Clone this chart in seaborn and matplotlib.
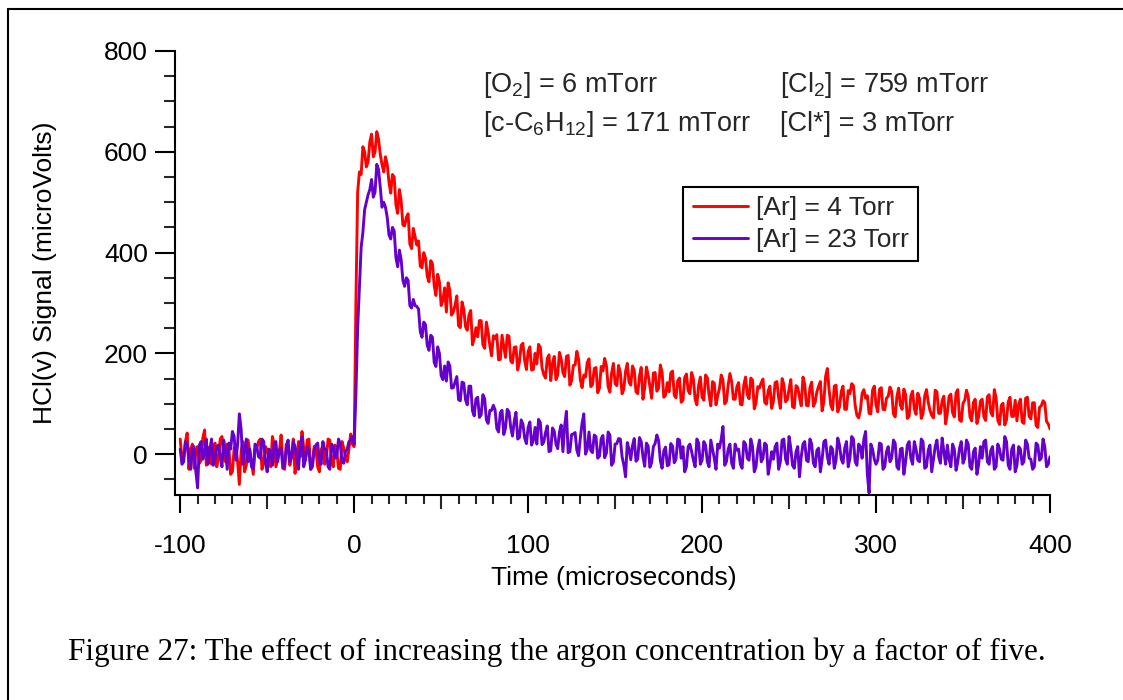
import numpy as np
import pandas as pd
import matplotlib
matplotlib.use("Agg")
import matplotlib.pyplot as plt
from matplotlib.lines import Line2D
from matplotlib.ticker import FixedLocator, MultipleLocator
import seaborn as sns

# Sampling times (microseconds): the digitizer record is stored as two
# interleaved halves, even and odd microseconds
time_even = np.arange(-100, 401, 2)
time_odd = np.arange(-99, 400, 2)

# HCl(v) signal, [Ar] = 4 Torr -- even microseconds
red_even = [
    30, -5, 42, 10, -28, 15, -12, 48, 5, -20,
    22, -8, 35, -15, 10, -35, 18, -60, 25, -22,
    5, -40, 12, 30, -18, 8, -25, 20, -10, 38,
    -30, 15, -5, -38, 25, 45, -12, 30, -20, 10,
    -35, 18, -8, 28, -25, 5, -30, 12, -15, 40,
    15, 520, 555, 600, 580, 635, 600, 625, 575, 590, 540,
    555, 495, 525, 455, 470, 417, 448, 415, 373, 400,
    353, 384, 335, 357, 295, 330, 340, 276, 296, 255,
    302, 253, 276, 217, 251, 265, 217, 262, 215, 235,
    237, 188, 214, 236, 185, 212, 167, 216, 186, 204,
    167, 200, 218, 171, 151, 197, 180, 148, 202, 162,
    194, 137, 176, 204, 148, 157, 182, 134, 170, 122,
    174, 190, 134, 161, 140, 176, 120, 164, 143, 175,
    124, 155, 109, 173, 134, 161, 125, 177, 113, 142,
    161, 117, 146, 103, 152, 126, 162, 109, 136, 113,
    157, 117, 144, 98, 131, 147, 105, 160, 109, 134,
    99, 138, 118, 151, 90, 134, 142, 103, 126, 91,
    142, 112, 150, 104, 129, 94, 136, 113, 153, 97,
    132, 95, 124, 144, 104, 170, 97, 135, 84, 124,
    89, 126, 140, 97, 72, 121, 111, 81, 127, 97,
    129, 89, 111, 133, 80, 114, 97, 129, 71, 115,
    90, 121, 71, 116, 103, 77, 127, 81, 106, 60,
    115, 82, 122, 68, 101, 127, 74, 103, 61, 105,
    74, 114, 83, 128, 67, 97, 58, 104, 75, 107,
    99, 64, 111, 75, 102, 57, 93, 106, 65, 50,
]

# HCl(v) signal, [Ar] = 4 Torr -- odd microseconds
red_odd = [
    -12, 25, -30, 20, 5, -18, 32, -22, 15, 8,
    -25, 30, -5, 20, -40, 12, -15, 5, -35, 28,
    -18, 10, 25, -30, 15, -10, 35, -25, 5, -15,
    20, -22, 30, -10, -5, 12, 28, -30, 15, -25,
    8, -20, 30, -12, 18, -28, 25, -5, 10, 20,
    300, 560, 610, 570, 620, 590, 640, 595, 560, 575,
    518, 550, 478, 503, 453, 477, 408, 432, 423, 370,
    389, 342, 378, 315, 342, 305, 282, 325, 282, 314,
    251, 288, 246, 285, 229, 233, 265, 210, 242, 195,
    229, 187, 236, 192, 234, 181, 213, 183, 220, 168,
    213, 168, 179, 212, 158, 190, 146, 194, 157, 189,
    154, 196, 146, 177, 188, 132, 153, 189, 138, 172,
    131, 165, 176, 123, 180, 136, 162, 129, 180, 137,
    166, 120, 172, 131, 157, 111, 162, 131, 163, 117,
    124, 165, 112, 151, 107, 159, 120, 149, 98, 153,
    107, 152, 96, 141, 116, 157, 100, 137, 144, 109,
    142, 98, 153, 110, 147, 102, 131, 149, 99, 135,
    105, 144, 91, 138, 108, 148, 92, 132, 96, 138,
    96, 143, 103, 135, 86, 154, 128, 88, 137, 94,
    135, 89, 120, 136, 77, 87, 128, 116, 80, 135,
    84, 132, 88, 115, 124, 74, 131, 89, 118, 75,
    125, 79, 111, 80, 128, 87, 72, 124, 81, 115,
    83, 119, 74, 128, 65, 107, 114, 66, 109, 75,
    109, 67, 118, 76, 112, 59, 101, 68, 113, 75,
    66, 109, 61, 113, 70, 102, 53, 96, 102, 60,
]

# HCl(v) signal, [Ar] = 23 Torr -- even microseconds
purple_even = [
    10, -15, 20, -30, 15, -67, 25, 5, -20, 30,
    -10, 18, -25, 8, 22, 45, -12, 80, -20, 30,
    10, -28, 15, -8, 25, -35, 5, 20, -15, 12,
    -22, 28, -5, 15, -30, 35, -10, 5, -25, 18,
    -12, 25, 8, -30, 15, -5, 20, -18, 10, 28,
    20, 250, 410, 485, 515, 545, 520, 565, 490, 490, 435,
    450, 390, 405, 345, 350, 295, 307, 293, 243, 262,
    216, 236, 182, 213, 156, 175, 183, 131, 143, 108,
    143, 108, 135, 86, 110, 73, 118, 68, 87, 97,
    51, 82, 39, 89, 53, 65, 30, 68, 32, 53,
    18, 53, 69, 19, 43, 5, 52, 20, 44, 5,
    85, 5, 40, 8, 32, 80, 10, 7, 38, -8,
    31, -7, 44, -22, 20, 31, -5, -45, 10, 17,
    -14, 33, -5, 22, -26, 15, 38, -13, 7, -23,
    21, -17, 30, -8, -35, 15, 5, -25, 22, -12,
    18, -25, 10, -30, 12, 55, -15, 20, -28, 8,
    -20, 25, -8, 30, -35, 10, -15, 22, -40, 5,
    15, -30, 28, -10, 35, -22, 5, -45, 20, -12,
    30, -18, 8, -35, 25, -5, 15, -28, 32, -10,
    12, -25, 35, -15, 20, -8, 45, -77, 10, -20,
    22, -30, 5, -15, 28, -25, 10, -40, 18, -8,
    25, -12, 30, -28, 8, -35, 15, -5, 32, -20,
    -10, 20, -32, 12, -18, 28, -25, 5, -40, 15,
    25, -15, 8, -30, 20, -10, 35, -22, 10, -35,
    15, -20, 28, -8, -30, 22, -12, 30, -25, -5,
]

# HCl(v) signal, [Ar] = 23 Torr -- odd microseconds
purple_odd = [
    -20, 25, -8, 12, -35, 18, -10, 30, 8, -22,
    15, -5, 28, -30, 10, 35, 20, 50, 5, -15,
    -25, 20, -5, 30, -15, 10, -22, 25, 8, -28,
    12, -15, 25, -8, 20, -25, 15, -30, 10, 22,
    -20, 10, -25, 20, -8, 30, -15, 5, 25, 35,
    120, 330, 440, 500, 525, 510, 575, 530, 500, 470,
    427, 443, 372, 386, 333, 345, 290, 295, 288, 232,
    257, 206, 232, 174, 200, 148, 145, 175, 132, 154,
    106, 141, 98, 135, 76, 113, 78, 110, 61, 87,
    88, 44, 87, 52, 84, 36, 83, 33, 60, 21,
    64, 27, 20, 63, 24, 56, 7, 46, 11, 58,
    56, 3, 39, 43, -3, 61, 0, 44, 3, 35,
    -4, 37, 2, 38, -16, 21, 30, -21, 23, -11,
    31, -10, 25, -24, 16, -17, 21, 27, -28, 14,
    -21, 16, -10, 28, 15, -25, 20, -12, 30, -20,
    25, -15, 28, -8, 20, 30, -22, 10, -18, 20,
    10, -28, 20, -12, 15, -25, 28, -8, 18, -20,
    -10, 22, -15, 30, -20, 12, -28, 15, -5, 25,
    -15, 20, -25, 12, -10, 28, -20, 10, -12, 18,
    -18, 25, -8, 30, -22, 15, 30, -40, 20, -10,
    -12, 20, -25, 15, -8, 22, -30, 12, -15, 25,
    -20, 10, -15, 25, -25, 18, -10, 28, -18, 5,
    18, -25, 10, -15, 25, -8, 20, -30, 12, -20,
    -8, 28, -20, 15, -25, 10, -12, 25, -30, 18,
    -22, 10, -15, 20, -10, -25, 18, -8, 15, -20,
]

series_labels = ["[Ar] = 4 Torr", "[Ar] = 23 Torr"]
series_colors = ["#FF0000", "#6600CC"]

conditions = [
    (r"[O$_2$] = 6 mTorr", r"[Cl$_2$] = 759 mTorr"),
    (r"[c-C$_6$H$_{12}$] = 171 mTorr", r"[Cl*] = 3 mTorr"),
]
x_label = "Time (microseconds)"
y_label = "HCl(v) Signal (microVolts)"
caption = "Figure 27: The effect of increasing the argon concentration by a factor of five."

def trace(label, even, odd):
    t = np.concatenate([time_even, time_odd])
    s = np.concatenate([np.asarray(even, float), np.asarray(odd, float)])
    order = np.argsort(t, kind="stable")
    return pd.DataFrame({"time": t[order], "signal": s[order], "series": label})

df = pd.concat([
    trace(series_labels[0], red_even, red_odd),
    trace(series_labels[1], purple_even, purple_odd),
], ignore_index=True)

sns.set_theme(style="white")
plt.rcParams["font.family"] = ["Liberation Sans", "DejaVu Sans"]
plt.rcParams["axes.unicode_minus"] = False
plt.rcParams["mathtext.fontset"] = "custom"
plt.rcParams["mathtext.rm"] = "Liberation Sans"
plt.rcParams["mathtext.it"] = "Liberation Sans:italic"
plt.rcParams["mathtext.bf"] = "Liberation Sans:bold"

W, H = 1123, 700
fig = plt.figure(figsize=(W / 100, H / 100), dpi=100)
fig.patch.set_facecolor("white")

def fx(px):
    return px / W

def fy(py):
    return 1 - py / H

ax = fig.add_axes([fx(175), fy(495), fx(1050) - fx(175), fy(51) - fy(495)])

LW = 2.1
sns.lineplot(data=df, x="time", y="signal", hue="series", hue_order=series_labels,
             palette=series_colors, estimator=None, sort=True, linewidth=LW,
             legend=False, ax=ax)

ax.set_xlim(-103, 400)
ax.set_ylim(-81, 800)

for side in ("top", "right"):
    ax.spines[side].set_visible(False)
for side in ("left", "bottom"):
    ax.spines[side].set_linewidth(1.5)
    ax.spines[side].set_color("black")

TICK_FS = 19
ax.xaxis.set_major_locator(MultipleLocator(100))
ax.xaxis.set_minor_locator(FixedLocator([v for v in range(-100, 401, 10) if v % 50 != 0]))
ax.yaxis.set_major_locator(MultipleLocator(200))
ax.yaxis.set_minor_locator(FixedLocator([v for v in range(-50, 801, 50) if v % 200 != 0]))

ax.tick_params(axis="x", which="major", direction="out", length=13, width=1.5,
               pad=15, labelsize=TICK_FS, colors="black", bottom=True)
ax.tick_params(axis="x", which="minor", direction="out", length=6.5, width=1.5, bottom=True)
ax.tick_params(axis="y", which="major", direction="out", length=14.5, width=1.5,
               pad=5, labelsize=TICK_FS, colors="black", left=True)
ax.tick_params(axis="y", which="minor", direction="out", length=8, width=1.5, left=True)

# medium-length ticks at the odd multiples of 50
sec = ax.secondary_xaxis("bottom")
sec.xaxis.set_major_locator(FixedLocator([-50, 50, 150, 250, 350]))
sec.tick_params(axis="x", which="major", direction="out", length=10, width=1.5,
                labelbottom=False)
sec.spines["bottom"].set_visible(False)

ax.set_xlabel(x_label, fontsize=TICK_FS, color="black")
ax.set_ylabel(y_label, fontsize=TICK_FS, color="black")
ax.xaxis.set_label_coords((614 - 175) / (1050 - 175), (495 - 578) / (495 - 51))
ax.xaxis.label.set_va("center")
ax.yaxis.set_label_coords((45 - 175) / (1050 - 175), 0.5)
ax.yaxis.label.set_va("center")

handles = [Line2D([], [], color=c, lw=LW) for c in series_colors]
leg = ax.legend(handles, series_labels, loc="upper left",
                bbox_to_anchor=(fx(683), fy(187)), bbox_transform=fig.transFigure,
                borderaxespad=0, fontsize=TICK_FS, frameon=True, fancybox=False,
                framealpha=1, edgecolor="black", handlelength=2.1,
                handletextpad=0.3, labelspacing=0.28, borderpad=0.36)
leg.get_frame().set_linewidth(1.5)

for row, py in zip(conditions, (92, 131)):
    fig.text(fx(483), fy(py), row[0], fontsize=19.5, va="baseline", ha="left")
    fig.text(fx(780), fy(py), row[1], fontsize=19.5, va="baseline", ha="left")

fig.text(fx(557), fy(652), caption, fontsize=22.5, family="Liberation Serif",
         ha="center", va="center", color="black")

# page frame
fig.add_artist(Line2D([fx(8), fx(8)], [0, fy(9)], color="black", lw=1.5,
                      transform=fig.transFigure))
fig.add_artist(Line2D([fx(8), 1], [fy(9), fy(9)], color="black", lw=1.5,
                      transform=fig.transFigure))

fig.savefig("out.png", dpi=100, facecolor="white")
